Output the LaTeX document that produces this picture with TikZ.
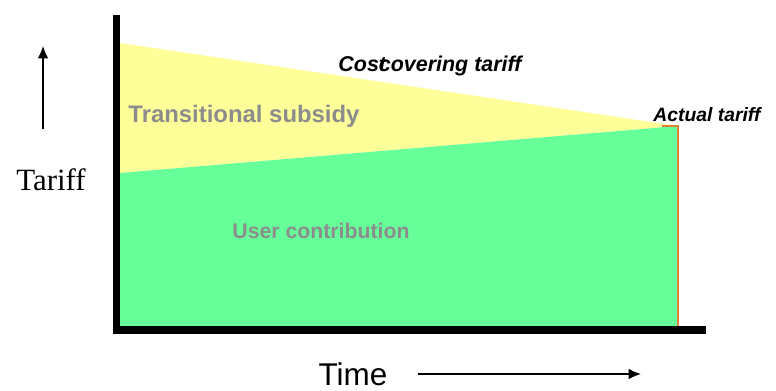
\documentclass[tikz,border=0pt]{standalone}
\usepackage{fontspec}
\setmainfont{Liberation Serif}
\setsansfont{Liberation Sans}
\usetikzlibrary{arrows.meta}

\definecolor{subsidy}{HTML}{FFFF99}
\definecolor{usergreen}{HTML}{66FF99}
\definecolor{labelgrey}{HTML}{8C8C8C}
\definecolor{edgeorange}{HTML}{E0813A}

\tikzset{
    axisline/.style={line width=4pt},
    areatext/.style={font=\sffamily\bfseries, text=labelgrey, inner sep=0pt},
    tarifftext/.style={font=\sffamily\bfseries\itshape, inner sep=0pt},
    pointer/.style={-{Latex[length=7pt,width=6pt]}, line width=0.7pt}
}

\begin{document}
\begin{tikzpicture}[x=0.02cm, y=-0.02cm]
    \useasboundingbox (0,0) rectangle (776,391);

    \coordinate (topleft) at (120,43);
    \coordinate (midleft) at (120,173);
    \coordinate (actual) at (678,126);
    \coordinate (baseright) at (678,327);
    \coordinate (baseleft) at (120,327);

    % areas
    \fill[subsidy] (topleft) -- (actual) -- (midleft) -- cycle;
    \fill[usergreen] (midleft) -- (actual) -- (baseright) -- (baseleft) -- cycle;
    \draw[edgeorange, line width=0.8pt] (662,126) -- (actual) -- (baseright);

    % axes
    \draw[axisline] (116.5,15) -- (116.5,330) -- (706,330);

    \node[areatext, font=\sffamily\bfseries\fontsize{13.6}{16}\selectfont] (subsidylabel) at (244,116) {Transitional subsidy};
    \node[areatext, font=\sffamily\bfseries\fontsize{12.1}{14}\selectfont] (userlabel) at (321,231) {User contribution};
    \node[tarifftext, font=\sffamily\bfseries\itshape\fontsize{12.2}{14}\selectfont] (costlabel) at (430,66) {Cos\rlap{t}covering tariff};
    \node[tarifftext, font=\sffamily\bfseries\itshape\fontsize{11}{13}\selectfont] (actuallabel) at (707,115) {Actual tariff};

    \node[font=\fontsize{17.6}{20}\selectfont, inner sep=0pt] (tariff) at (51,180) {Tariff};
    \node[font=\sffamily\fontsize{17.9}{20}\selectfont, inner sep=0pt] (time) at (353,374) {Time};

    \coordinate (upfoot) at (43,129);
    \coordinate (uptip) at (43,46);
    \coordinate (timefoot) at (418,374);
    \coordinate (timetip) at (641,374);
    \draw[pointer] (upfoot) -- (uptip);
    \draw[pointer] (timefoot) -- (timetip);

\end{tikzpicture}
\end{document}
